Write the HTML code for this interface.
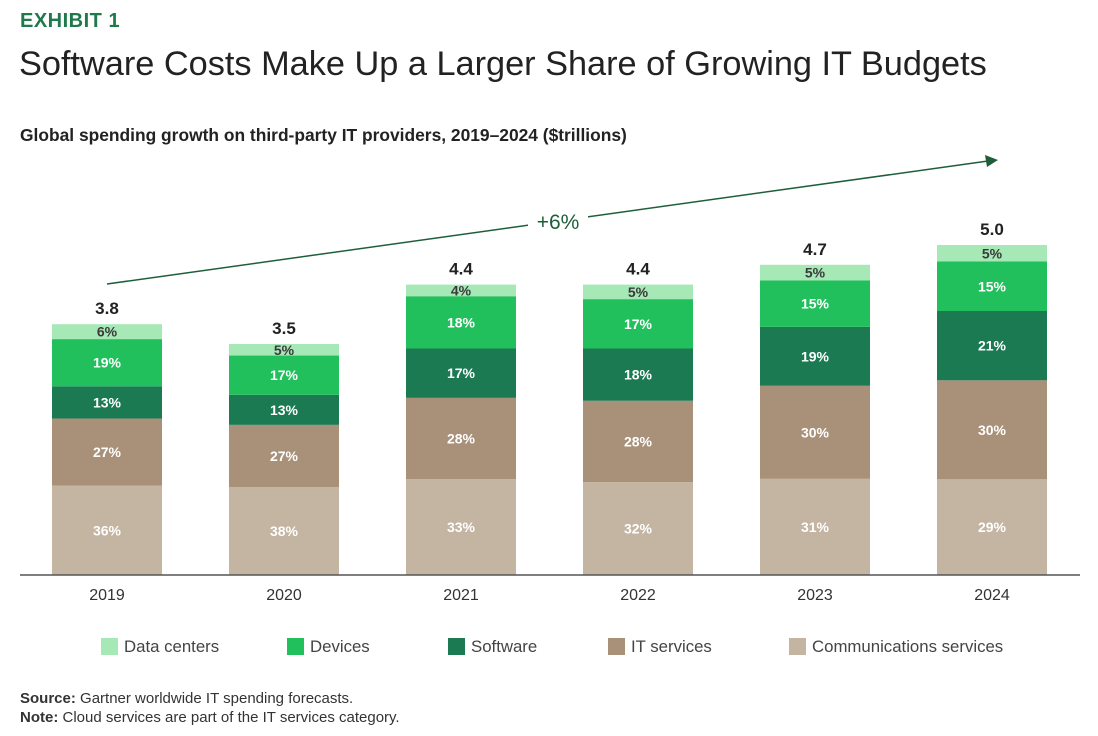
<!DOCTYPE html>
<html><head><meta charset="utf-8"><style>
body{margin:0;width:1098px;height:736px;background:#fff;font-family:"Liberation Sans",sans-serif;overflow:hidden;position:relative}
.abs{position:absolute}
</style></head><body>
<div class="abs" style="left:20px;top:10px;font-size:20px;font-weight:bold;color:#1e7a4a;letter-spacing:0.5px">EXHIBIT 1</div>
<div class="abs" style="left:19px;top:45px;font-size:34.3px;color:#222">Software Costs Make Up a Larger Share of Growing IT Budgets</div>
<div class="abs" style="left:20px;top:125px;font-size:17.4px;font-weight:bold;color:#222">Global spending growth on third-party IT providers, 2019–2024 ($trillions)</div>
<svg id="chart" class="abs" style="left:0;top:0" width="1098" height="736"></svg>
<div class="abs" style="left:20px;top:689px;font-size:15px;color:#333;line-height:19px"><b>Source:</b> Gartner worldwide IT spending forecasts.<br><b>Note:</b> Cloud services are part of the IT services category.</div>
<script>
const years=["2019","2020","2021","2022","2023","2024"];
const totals=[3.8,3.5,4.4,4.4,4.7,5.0];
const totalLabels=["3.8","3.5","4.4","4.4","4.7","5.0"];
const commPct=[36,38,33,32,31,29];
const itPct=[27,27,28,28,30,30];
const swPct=[13,13,17,18,19,21];
const devPct=[19,17,18,17,15,15];
const dcPct=[6,5,4,5,5,5];
const seriesNames=["Communications services","IT services","Software","Devices","Data centers"];
const seriesColors=["#c4b4a2","#a99079","#1b7a52","#22c05c","#a6e8b6"];
const seriesText=["#fff","#fff","#fff","#fff","#3a3a3a"];
const series=[commPct,itPct,swPct,devPct,dcPct];
const NS="http://www.w3.org/2000/svg";
const svg=document.getElementById('chart');
const baseY=575,pxPer=66,x0=52,step=177,bw=110;
const xAt=i=>x0+i*step;
const hAt=v=>v*pxPer;
function mk(t,a){const e=document.createElementNS(NS,t);for(const k in a)e.setAttribute(k,a[k]);svg.appendChild(e);return e;}
years.forEach((y,i)=>{
  const H=hAt(totals[i]);
  let sum=0;series.forEach(s=>sum+=s[i]);
  let yc=baseY;
  series.forEach((s,j)=>{
    const h=H*s[i]/sum;
    const r=mk('rect',{x:xAt(i),y:yc-h,width:bw,height:h,fill:seriesColors[j]});
    
    
    const t=mk('text',{x:xAt(i)+bw/2,y:yc-h/2+5,'text-anchor':'middle','font-size':14,'font-weight':'bold',fill:seriesText[j]});
    t.textContent=s[i]+'%';
    
    
    yc-=h;
  });
  const tl=mk('text',{x:xAt(i)+bw/2,y:baseY-H-10,'text-anchor':'middle','font-size':17,'font-weight':'bold',fill:'#222'});
  tl.textContent=totalLabels[i];
  
  
  const xl=mk('text',{x:xAt(i)+bw/2,y:600,'text-anchor':'middle','font-size':16,fill:'#333'});
  xl.textContent=y;
  
  
});
const ax=mk('line',{x1:20,x2:1080,y1:baseY,y2:baseY,stroke:'#555','stroke-width':1.5});


const ar=mk('line',{x1:107,y1:284,x2:988,y2:161,stroke:'#1e5e3a','stroke-width':1.5});


const ah=mk('polygon',{points:'998,160 985,155 987,167',fill:'#1e5e3a'});


const bg=mk('rect',{x:528,y:208,width:60,height:28,fill:'#fff'});


const gl=mk('text',{x:558,y:229,'text-anchor':'middle','font-size':21,fill:'#1e5e3a'});
gl.textContent='+6%';


const legX=[101,287,448,608,789];
const legOrder=[4,3,2,1,0];
legOrder.forEach((j,k)=>{
  const r=mk('rect',{x:legX[k],y:638,width:17,height:17,fill:seriesColors[j]});
  
  
  const t=mk('text',{x:legX[k]+23,y:652,'font-size':16.8,fill:'#444'});
  t.textContent=seriesNames[j];
  
  
});
</script>
</body></html>
